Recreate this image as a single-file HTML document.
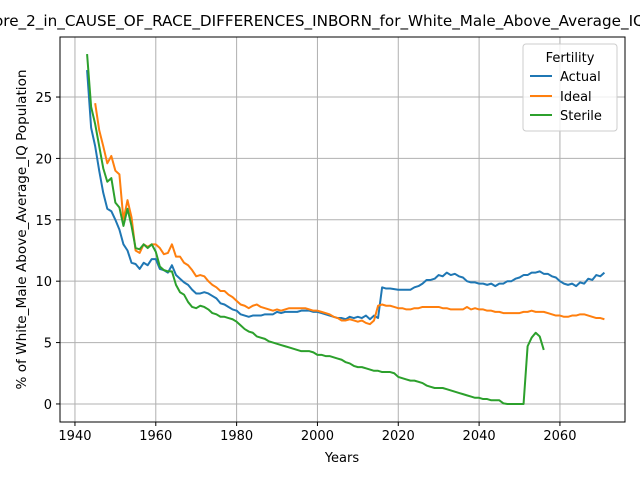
<!DOCTYPE html>
<html><head><meta charset="utf-8"><style>
body{margin:0;background:#fff;}
svg{font-family:"DejaVu Sans","Liberation Sans",sans-serif;display:block}
</style></head><body>
<svg id="chart" width="640" height="480" viewBox="0 0 640 480" xmlns="http://www.w3.org/2000/svg">
<rect x="0" y="0" width="640" height="480" fill="#fff"/>
<g id="grid"></g>
<g id="series"></g>
<rect x="60" y="37" width="565" height="385" fill="none" stroke="#000" stroke-width="1"/>
<g id="ticks"></g>
<text x="645" y="26" font-size="15.2" text-anchor="end">Score_2_in_CAUSE_OF_RACE_DIFFERENCES_INBORN_for_White_Male_Above_Average_IQ</text>
<text x="342" y="462" font-size="13" text-anchor="middle">Years</text>
<text x="0" y="0" font-size="13.6" text-anchor="middle" transform="translate(26,229.5) rotate(-90)">% of White_Male Above_Average_IQ Population</text>
<g>
<rect x="523" y="44" width="94" height="87" rx="3" fill="#fff" fill-opacity="0.8" stroke="#ccc"/>
<text x="570" y="62" font-size="13" text-anchor="middle">Fertility</text>
<g><line x1="530" y1="76" x2="552" y2="76" stroke="#1f77b4" stroke-width="2"/><text x="560" y="81" font-size="13">Actual</text></g>
<g><line x1="530" y1="96" x2="552" y2="96" stroke="#ff7f0e" stroke-width="2"/><text x="560" y="101" font-size="13">Ideal</text></g>
<g><line x1="530" y1="115" x2="552" y2="115" stroke="#2ca02c" stroke-width="2"/><text x="560" y="120" font-size="13">Sterile</text></g>
</g>
</svg>
<script>
const xTicks=[1940,1960,1980,2000,2020,2040,2060];
const yTicks=[0,5,10,15,20,25];
const actualStart=1943;
const actual=[27.2,22.5,21,19,17.2,15.9,15.7,15.0,14.2,13.0,12.5,11.5,11.4,11.0,11.5,11.3,11.8,11.8,11.0,10.9,10.7,11.3,10.5,10.2,9.9,9.7,9.3,9.0,9.0,9.1,9.0,8.8,8.6,8.2,8.1,7.9,7.7,7.6,7.3,7.2,7.1,7.2,7.2,7.2,7.3,7.3,7.3,7.5,7.4,7.5,7.5,7.5,7.5,7.6,7.6,7.6,7.5,7.5,7.4,7.3,7.2,7.1,7.0,7.0,6.9,7.1,7.0,7.1,7.0,7.2,6.9,7.2,7.0,9.5,9.4,9.4,9.35,9.3,9.3,9.3,9.3,9.5,9.6,9.8,10.1,10.1,10.2,10.5,10.4,10.7,10.5,10.6,10.4,10.3,10.0,9.9,9.9,9.8,9.8,9.7,9.8,9.6,9.8,9.8,10.0,10.0,10.2,10.3,10.5,10.5,10.7,10.7,10.8,10.6,10.6,10.4,10.3,10.0,9.8,9.7,9.8,9.6,9.9,9.8,10.2,10.1,10.5,10.4,10.7];
const idealStart=1945;
const ideal=[24.5,22.3,21,19.6,20.2,19.0,18.7,15.0,16.6,15.2,12.5,12.3,13.0,12.8,13.0,13.0,12.7,12.2,12.3,13.0,12.0,12.0,11.5,11.3,10.9,10.4,10.5,10.4,10.0,9.7,9.5,9.2,9.2,8.9,8.7,8.4,8.1,8.0,7.8,8.0,8.1,7.9,7.8,7.7,7.6,7.7,7.6,7.7,7.8,7.8,7.8,7.8,7.8,7.7,7.6,7.6,7.5,7.4,7.3,7.1,7.0,6.8,6.8,6.9,6.8,6.7,6.8,6.6,6.5,6.8,8.0,8.1,8.0,8.0,7.9,7.8,7.8,7.7,7.7,7.8,7.8,7.9,7.9,7.9,7.9,7.9,7.8,7.8,7.7,7.7,7.7,7.7,7.9,7.7,7.8,7.7,7.7,7.6,7.6,7.5,7.5,7.4,7.4,7.4,7.4,7.4,7.5,7.5,7.6,7.5,7.5,7.5,7.4,7.3,7.2,7.2,7.1,7.1,7.2,7.2,7.3,7.3,7.2,7.1,7.0,7.0,6.9];
const sterileStart=1943;
const sterile=[28.5,24.2,22.8,21,19.2,18.1,18.4,16.4,16.0,14.5,15.9,14.5,12.7,12.6,13.0,12.7,13.0,12.4,11.2,10.9,10.8,10.8,9.7,9.1,8.9,8.3,7.9,7.8,8.0,7.9,7.7,7.4,7.3,7.1,7.1,7.0,6.9,6.7,6.4,6.1,5.9,5.8,5.5,5.4,5.3,5.1,5.0,4.9,4.8,4.7,4.6,4.5,4.4,4.3,4.3,4.3,4.2,4.0,4.0,3.9,3.9,3.8,3.7,3.6,3.4,3.3,3.1,3.0,3.0,2.9,2.8,2.7,2.7,2.6,2.6,2.6,2.5,2.2,2.1,2.0,1.9,1.9,1.8,1.7,1.5,1.4,1.3,1.3,1.3,1.2,1.1,1.0,0.9,0.8,0.7,0.6,0.5,0.5,0.4,0.4,0.3,0.3,0.3,0.05,0,0,0,0,0,4.7,5.4,5.8,5.5,4.4];
const NS='http://www.w3.org/2000/svg';
const L=60,R=625,T=37,B=422;
const x0=1936.3,x1=2076.1,y0=-1.47,y1=29.89;
function sx(v){return L+(v-x0)/(x1-x0)*(R-L);}
function sy(v){return B-(v-y0)/(y1-y0)*(B-T);}
const grid=document.getElementById('grid'),ticks=document.getElementById('ticks'),ser=document.getElementById('series');
function mk(tag,attrs,parent){const e=document.createElementNS(NS,tag);for(const k in attrs)e.setAttribute(k,attrs[k]);parent.appendChild(e);return e;}
xTicks.forEach(t=>{const x=sx(t);
 const g=mk('line',{x1:x,x2:x,y1:T,y2:B,stroke:'#b0b0b0','stroke-width':1},grid);
 
 
 mk('line',{x1:x,x2:x,y1:B,y2:B+4,stroke:'#000'},ticks);
 const tx=mk('text',{x:x,y:B+18,'font-size':13,'text-anchor':'middle'},ticks);tx.textContent=t;
 
 
});
yTicks.forEach(t=>{const y=sy(t);
 const g=mk('line',{x1:L,x2:R,y1:y,y2:y,stroke:'#b0b0b0','stroke-width':1},grid);
 
 
 mk('line',{x1:L-4,x2:L,y1:y,y2:y,stroke:'#000'},ticks);
 const tx=mk('text',{x:L-8,y:y+5,'font-size':13,'text-anchor':'end'},ticks);tx.textContent=t;
 
 
});
function line(vals,start,color,name){
 const d=vals.map((v,i)=>(i?'L':'M')+sx(start+i).toFixed(2)+','+sy(v).toFixed(2)).join('');
 const p=mk('path',{d:d,fill:'none',stroke:color,'stroke-width':2,'stroke-linejoin':'round'},ser);
 
 
}
line(actual,actualStart,'#1f77b4','actual-line');
line(ideal,idealStart,'#ff7f0e','ideal-line');
line(sterile,sterileStart,'#2ca02c','sterile-line');
</script>
</body></html>
